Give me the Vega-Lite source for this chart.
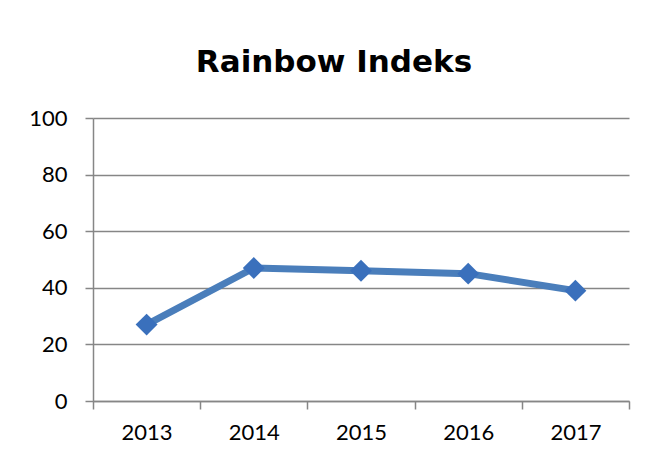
{
  "$schema": "https://vega.github.io/schema/vega-lite/v6.json",
  "width": 536,
  "height": 283,
  "autosize": {"type": "none"},
  "padding": {"left": 93, "top": 118, "right": 24, "bottom": 58},
  "background": "white",
  "title": {
    "text": "Rainbow Indeks",
    "font": "DejaVu Sans",
    "fontSize": 31,
    "fontWeight": "bold",
    "color": "#000000",
    "anchor": "middle",
    "dx": -27,
    "offset": 28
  },
  "data": {
    "values": [
      {"year": 2013, "value": 27},
      {"year": 2014, "value": 47},
      {"year": 2015, "value": 46},
      {"year": 2016, "value": 45},
      {"year": 2017, "value": 39}
    ]
  },
  "config": {
    "view": {"stroke": null},
    "axis": {
      "labelFont": "Lato",
      "labelFontSize": 22,
      "labelColor": "#000000",
      "domainColor": "#868686",
      "domainWidth": 1.5,
      "tickColor": "#868686",
      "tickWidth": 1.5,
      "tickSize": 8,
      "gridColor": "#868686",
      "gridWidth": 1.5,
      "title": null
    }
  },
  "resolve": {"axis": {"x": "independent"}},
  "layer": [
    {
      "mark": {"type": "line", "color": "#4A7EBB", "strokeWidth": 7, "strokeJoin": "round"},
      "encoding": {
        "x": {
          "field": "year",
          "type": "quantitative",
          "scale": {"domain": [2012.5, 2017.5], "nice": false, "zero": false},
          "axis": {
            "orient": "bottom",
            "values": [2012.5, 2013.5, 2014.5, 2015.5, 2016.5, 2017.5],
            "labels": false,
            "grid": false,
            "ticks": true
          }
        },
        "y": {
          "field": "value",
          "type": "quantitative",
          "scale": {"domain": [0, 100], "nice": false},
          "axis": {
            "values": [0, 20, 40, 60, 80, 100],
            "grid": true,
            "labelPadding": 18
          }
        }
      }
    },
    {
      "mark": {"type": "point", "shape": "diamond", "filled": true, "size": 480, "color": "#3A70BC", "opacity": 1},
      "encoding": {
        "x": {
          "field": "year",
          "type": "quantitative",
          "scale": {"domain": [2012.5, 2017.5], "nice": false, "zero": false},
          "axis": {
            "orient": "bottom",
            "values": [2013, 2014, 2015, 2016, 2017],
            "format": "d",
            "ticks": false,
            "domain": false,
            "grid": false,
            "labelPadding": 21
          }
        },
        "y": {"field": "value", "type": "quantitative"}
      }
    }
  ]
}
